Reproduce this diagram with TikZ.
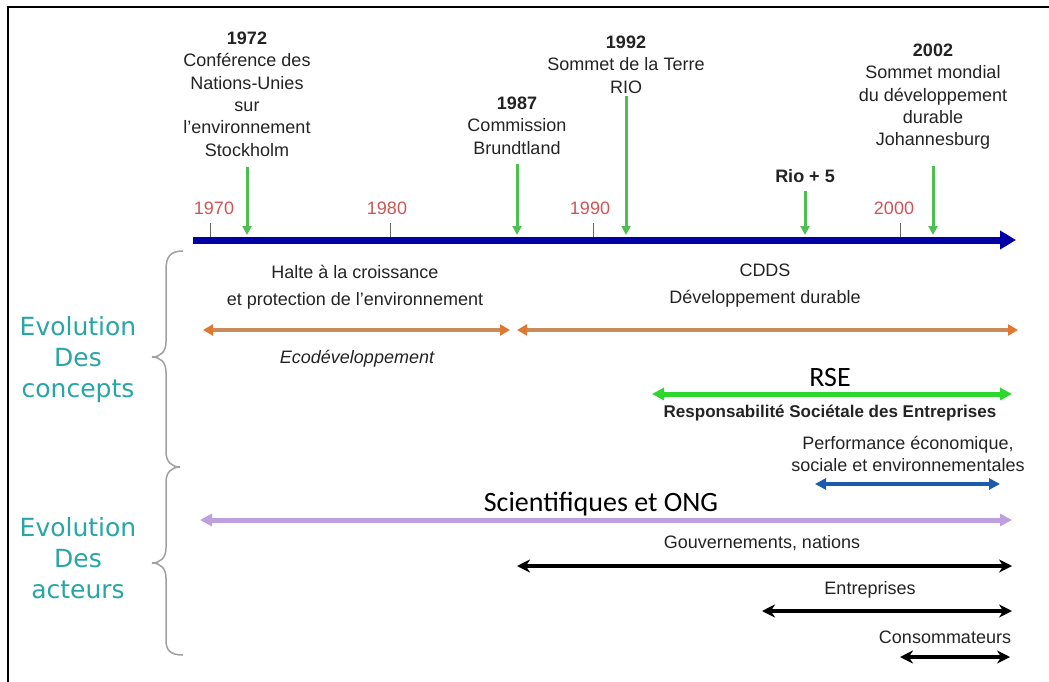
\documentclass[tikz,border=0pt]{standalone}
\usepackage{fontspec}
\setmainfont{Liberation Sans}
\newfontfamily\calibfont{Carlito}
\newfontfamily\verdfont{DejaVu Sans}
\usetikzlibrary{arrows.meta}
\definecolor{axisblue}{RGB}{0,0,165}
\definecolor{evgreen}{RGB}{80,190,80}
\definecolor{yearred}{RGB}{205,85,85}
\definecolor{ochre}{RGB}{200,140,90}
\definecolor{orangehead}{RGB}{225,120,50}
\definecolor{rsegreen}{RGB}{45,215,45}
\definecolor{perfblue}{RGB}{30,90,170}
\definecolor{lavender}{RGB}{190,160,225}
\definecolor{tealtxt}{RGB}{40,165,165}
\definecolor{bracegray}{RGB}{160,160,160}
\definecolor{textgray}{RGB}{35,35,35}

\begin{document}
\begin{tikzpicture}[x=1pt, y=-1pt,
	frame/.style={line width=2pt, black},
	axis/.style={line width=7pt, axisblue, -{Triangle[length=16pt,width=18pt]}},
	tick/.style={line width=1pt, black!60},
	year/.style={font=\fontsize{18}{22}\selectfont, text=yearred, inner sep=0pt},
	event/.style={font=\fontsize{18}{22.4}\selectfont, text=textgray, align=center, inner sep=0pt},
	evarrow/.style={line width=3pt, evgreen, -{Triangle[length=9pt,width=9pt]}},
	lbl/.style={font=\fontsize{18}{27}\selectfont, text=textgray, align=center, inner sep=0pt},
	side/.style={font=\verdfont\fontsize{25}{31}\selectfont, text=tealtxt, align=center},
	brace/.style={line width=1.5pt, bracegray},
	ochrespan/.style={line width=4pt, ochre, {Triangle[length=10pt,width=11pt,color=orangehead]}-{Triangle[length=10pt,width=11pt,color=orangehead]}},
	rsespan/.style={line width=5pt, rsegreen, {Triangle[length=12pt,width=12pt]}-{Triangle[length=12pt,width=12pt]}},
	perfspan/.style={line width=4pt, perfblue, {Triangle[length=11pt,width=11pt]}-{Triangle[length=11pt,width=11pt]}},
	ongspan/.style={line width=5pt, lavender, {Triangle[length=12pt,width=12pt]}-{Triangle[length=12pt,width=12pt]}},
	actspan/.style={line width=3.5pt, black, {Stealth[length=13pt,width=13pt]}-{Stealth[length=13pt,width=13pt]}}]
	\useasboundingbox (0,0) rectangle (1049,682);
	% Frame and time axis:
	\draw[frame] (8,682) -- (8,7) -- (1049,7);
	\coordinate (t0) at (193,240);
	\coordinate (t1) at (1016,240);
	\draw[axis] (t0) -- (t1);
	\foreach \yr/\xx/\lx in {1970/210/214, 1980/390/387, 1990/593/590, 2000/900/894} {
		\draw[tick] (\xx,223) -- (\xx,237);
		\node[year] (y\yr) at (\lx,208) {\yr};
	}
	% Events above the axis:
	\node[event, anchor=north] (e1972) at (247,31.5) {\textbf{1972}\\Conférence des\\Nations-Unies\\sur\\l'environnement\\Stockholm};
	\node[event, anchor=north] (e1987) at (517,96.5) {\textbf{1987}\\Commission\\Brundtland};
	\node[event, anchor=north] (e1992) at (626,35.5) {\textbf{1992}\\Sommet de la Terre\\RIO};
	\node[event] (erio) at (805,176) {\textbf{Rio + 5}};
	\node[event, anchor=north] (e2002) at (933,43.5) {\textbf{2002}\\Sommet mondial\\du développement\\durable\\Johannesburg};
	\coordinate (p1972) at (247,235);
	\coordinate (p1987) at (517,235);
	\coordinate (p1992) at (626,235);
	\coordinate (prio) at (805,235);
	\coordinate (p2002) at (933,235);
	\draw[evarrow, shorten <=10pt] (e1972) -- (p1972);
	\draw[evarrow, shorten <=10pt] (e1987) -- (p1987);
	\draw[evarrow, shorten <=3pt] (e1992) -- (p1992);
	\draw[evarrow, shorten <=8pt] (erio) -- (prio);
	\draw[evarrow, shorten <=16pt] (e2002) -- (p2002);
	% Concepts:
	\node[side] (concepts) at (78,360) {Evolution\\Des\\concepts};
	\node[side] (acteurs) at (78,558) {Evolution\\Des\\acteurs};
	\draw[brace] (183,251) .. controls (170,251) and (166,257) .. (166,270)
		-- (166,342) .. controls (166,352) and (160,357) .. (152,357)
		.. controls (160,357) and (166,362) .. (166,372)
		-- (166,452) .. controls (166,462) and (172,467) .. (180,467)
		.. controls (172,467) and (166,472) .. (166,482)
		-- (166,548) .. controls (166,558) and (160,563) .. (152,563)
		.. controls (160,563) and (166,568) .. (166,578)
		-- (166,640) .. controls (166,650) and (170,655) .. (183,655);
	\node[lbl] (halte) at (355,287) {Halte à la croissance\\et protection de l'environnement};
	\node[lbl, font=\fontsize{18}{27}\selectfont\itshape] (eco) at (357,359) {Ecodéveloppement};
	\node[lbl] (cdds) at (765,286) {CDDS\\Développement durable};
	\coordinate (h0) at (203,330);
	\coordinate (h1) at (510,330);
	\coordinate (d0) at (517,330);
	\coordinate (d1) at (1018,330);
	\draw[ochrespan] (h0) -- (h1);
	\draw[ochrespan] (d0) -- (d1);
	\node[font=\calibfont\fontsize{28}{30}\selectfont, inner sep=0pt] (rse) at (830,378) {RSE};
	\coordinate (r0) at (652,394);
	\coordinate (r1) at (1012,394);
	\draw[rsespan] (r0) -- (r1);
	\node[lbl, font=\bfseries\fontsize{17}{22}\selectfont] (resp) at (830,413) {Responsabilité Sociétale des Entreprises};
	\node[event, font=\fontsize{18}{22}\selectfont] (perf) at (908,454) {Performance économique,\\sociale et environnementales};
	\coordinate (f0) at (815,484);
	\coordinate (f1) at (1000,484);
	\draw[perfspan] (f0) -- (f1);
	% Actors:
	\node[font=\calibfont\fontsize{28}{30}\selectfont, inner sep=0pt] (ong) at (601,504) {Scientifiques et ONG};
	\coordinate (s0) at (200,520);
	\coordinate (s1) at (1012,520);
	\draw[ongspan] (s0) -- (s1);
	\node[lbl] (gouv) at (762,543) {Gouvernements, nations};
	\coordinate (g0) at (517,566);
	\coordinate (g1) at (1012,566);
	\draw[actspan] (g0) -- (g1);
	\node[lbl] (entr) at (870,590) {Entreprises};
	\coordinate (n0) at (762,611);
	\coordinate (n1) at (1012,611);
	\draw[actspan] (n0) -- (n1);
	\node[lbl] (conso) at (945,637) {Consommateurs};
	\coordinate (c0) at (900,657);
	\coordinate (c1) at (1010,657);
	\draw[actspan] (c0) -- (c1);
\end{tikzpicture}
\end{document}
